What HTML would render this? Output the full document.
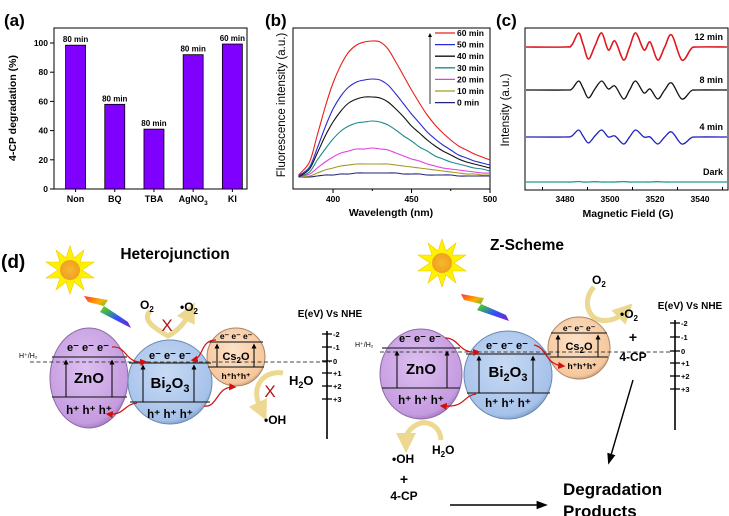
<!DOCTYPE html>
<html><head><meta charset="utf-8"><style>
html,body{margin:0;padding:0;background:#fff;}
svg{display:block;font-family:"Liberation Sans",sans-serif;}
.b{font-weight:bold;}
</style></head><body>
<svg id="fig" width="729" height="516" viewBox="0 0 729 516" xmlns="http://www.w3.org/2000/svg">
<defs>
<linearGradient id="rainbow" x1="0" y1="0" x2="1" y2="1">
<stop offset="0" stop-color="#ff3030"/><stop offset="0.25" stop-color="#ffb000"/><stop offset="0.45" stop-color="#40c040"/><stop offset="0.7" stop-color="#3050ff"/><stop offset="1" stop-color="#8020c0"/>
</linearGradient>
<radialGradient id="gZn" cx="0.45" cy="0.4" r="0.65"><stop offset="0" stop-color="#dcc0f0"/><stop offset="0.85" stop-color="#c59be0"/><stop offset="1" stop-color="#8f6aa8"/></radialGradient>
<radialGradient id="gBi" cx="0.45" cy="0.4" r="0.65"><stop offset="0" stop-color="#c8daf4"/><stop offset="0.85" stop-color="#a6c2ea"/><stop offset="1" stop-color="#6f8db8"/></radialGradient>
<radialGradient id="gCs" cx="0.45" cy="0.4" r="0.65"><stop offset="0" stop-color="#fde2c8"/><stop offset="0.85" stop-color="#f6c79c"/><stop offset="1" stop-color="#b08a6a"/></radialGradient>
<radialGradient id="gSun" cx="0.5" cy="0.5" r="0.5"><stop offset="0" stop-color="#f8b830"/><stop offset="1" stop-color="#f0a020"/></radialGradient>
<marker id="ar" markerWidth="6" markerHeight="6" refX="4" refY="3" orient="auto"><path d="M0,0 L6,3 L0,6 z" fill="#d01010"/></marker>
<marker id="ak" markerWidth="8" markerHeight="8" refX="6" refY="4" orient="auto"><path d="M0,1 L8,4 L0,7 z" fill="#000"/></marker>
<marker id="aup" markerWidth="5" markerHeight="5" refX="2.5" refY="2.5" orient="auto"><path d="M0,0 L5,2.5 L0,5 z" fill="#000"/></marker>
<marker id="ay" markerWidth="4" markerHeight="4" refX="1" refY="2" orient="auto"><path d="M0,0 L4,2 L0,4 z" fill="#ecd890"/></marker>
</defs>

<!-- Panel a -->
<g id="pa">
<text x="4" y="26" class="b" font-size="17">(a)</text>
<rect x="54" y="28" width="193" height="161" fill="none" stroke="#000" stroke-width="1"/>
<text transform="translate(16,108) rotate(-90)" text-anchor="middle" class="b" font-size="10.5">4-CP degradation (%)</text>
<g id="pa-marks"></g>
</g>

<!-- Panel b -->
<g id="pb">
<text x="265" y="26" class="b" font-size="17">(b)</text>
<rect x="293" y="28" width="197" height="161" fill="none" stroke="#000" stroke-width="1"/>
<text transform="translate(285,105) rotate(-90)" text-anchor="middle" font-size="11.5">Fluorescence intensity (a.u.)</text>
<text x="391" y="216" text-anchor="middle" class="b" font-size="10.5">Wavelength (nm)</text>
<g id="pb-marks"></g>
</g>

<!-- Panel c -->
<g id="pc">
<text x="496" y="26" class="b" font-size="17">(c)</text>
<rect x="525" y="28" width="203" height="162" fill="none" stroke="#000" stroke-width="1"/>
<text transform="translate(509,110) rotate(-90)" text-anchor="middle" font-size="11.5">Intensity (a.u.)</text>
<text x="628" y="217" text-anchor="middle" class="b" font-size="10.5">Magnetic Field (G)</text>
<g id="pc-marks"></g>
</g>

<!-- Panel d -->
<g id="pd" font-weight="bold">
<text x="1" y="268" font-size="19">(d)</text>

<!-- Heterojunction -->
<g>
<text x="175" y="259" text-anchor="middle" font-size="15.5">Heterojunction</text>
<g>
<polygon points="70,246 74,258 84,250 80,262 94,262 82,270 94,278 80,278 84,290 74,282 70,294 66,282 56,290 60,278 46,278 58,270 46,262 60,262 56,250 66,258" fill="#fff200" stroke="#f0c800" stroke-width="0.6"/>
<circle cx="70" cy="270" r="10" fill="url(#gSun)"/>
</g>
<polygon points="84,296 108,300 104,306 128,322 131,328 100,312 104,306 88,302" fill="url(#rainbow)"/>
<ellipse cx="89" cy="378" rx="39" ry="50" fill="url(#gZn)" stroke="#8c6aa6" stroke-width="1"/>
<circle cx="170" cy="382" r="42" fill="url(#gBi)" stroke="#6c88b0" stroke-width="1"/>
<circle cx="236" cy="357" r="29" fill="url(#gCs)" stroke="#a88668" stroke-width="1"/>
<line x1="30" y1="362" x2="330" y2="362" stroke="#444" stroke-width="0.9" stroke-dasharray="4,2.5"/>
<text x="19" y="358" font-size="7" font-weight="normal">H⁺/H₂</text>
<g stroke="#333" stroke-width="1.2" fill="none">
<line x1="52" y1="357" x2="127" y2="357"/><line x1="52" y1="397" x2="127" y2="397"/>
<line x1="129" y1="363" x2="211" y2="363"/><line x1="130" y1="402" x2="210" y2="402"/>
<line x1="209" y1="342" x2="263" y2="342"/><line x1="208" y1="367" x2="264" y2="367"/>
</g>
<g stroke="#000" stroke-width="1" marker-end="url(#aup)">
<line x1="66" y1="397" x2="66" y2="362"/><line x1="112" y1="397" x2="112" y2="362"/>
<line x1="143" y1="402" x2="143" y2="367"/><line x1="194" y1="402" x2="194" y2="367"/>
<line x1="217" y1="367" x2="217" y2="346"/><line x1="254" y1="367" x2="254" y2="346"/>
</g>
<text x="88" y="351" text-anchor="middle" font-size="11">e⁻ e⁻ e⁻</text>
<text x="89" y="383" text-anchor="middle" font-size="15">ZnO</text>
<text x="89" y="414" text-anchor="middle" font-size="11.5">h⁺ h⁺ h⁺</text>
<text x="170" y="359" text-anchor="middle" font-size="11">e⁻ e⁻ e⁻</text>
<text x="170" y="388" text-anchor="middle" font-size="15">Bi<tspan dy="4" font-size="11">2</tspan><tspan dy="-4">O</tspan><tspan dy="4" font-size="11">3</tspan></text>
<text x="170" y="418" text-anchor="middle" font-size="11.5">h⁺ h⁺ h⁺</text>
<text x="236" y="339" text-anchor="middle" font-size="8.5">e⁻ e⁻ e⁻</text>
<text x="236" y="360" text-anchor="middle" font-size="11">Cs<tspan dy="3" font-size="8">2</tspan><tspan dy="-3">O</tspan></text>
<text x="236" y="379" text-anchor="middle" font-size="8.5">h⁺h⁺h⁺</text>
<g stroke="#d01010" stroke-width="1.2" fill="none" marker-end="url(#ar)">
<path d="M112,347 C128,346 124,364 145,362"/>
<path d="M216,340 C200,340 204,358 193,360"/>
<path d="M137,403 C124,404 124,416 108,414"/>
<path d="M204,406 C218,408 216,386 234,387"/>
</g>
<path d="M150,311 C140,322 162,332 168,336 C176,332 184,324 188,316" fill="none" stroke="#ecd890" stroke-width="5" marker-end="url(#ay)"/>
<text x="140" y="309" font-size="12">O<tspan dy="3" font-size="8">2</tspan></text>
<text x="180" y="311" font-size="12">•O<tspan dy="3" font-size="8">2</tspan></text>
<text x="167" y="331" text-anchor="middle" font-size="17" font-weight="normal" fill="#b01818">X</text>
<path d="M283,373 C264,370 250,386 260,407" fill="none" stroke="#ecd890" stroke-width="5" marker-end="url(#ay)"/>
<text x="289" y="385" font-size="13">H<tspan dy="3" font-size="9">2</tspan><tspan dy="-3">O</tspan></text>
<text x="270" y="397" text-anchor="middle" font-size="17" font-weight="normal" fill="#b01818">X</text>
<text x="264" y="424" font-size="12">•OH</text>
<text x="330" y="317" text-anchor="middle" font-size="10">E(eV) Vs NHE</text>
<g>
<line x1="327" y1="331" x2="327" y2="439" stroke="#000" stroke-width="1.6"/>
<g stroke="#000" stroke-width="1.3"><line x1="322" y1="334" x2="332" y2="334"/><line x1="322" y1="347" x2="332" y2="347"/><line x1="322" y1="361" x2="332" y2="361"/><line x1="322" y1="373" x2="332" y2="373"/><line x1="322" y1="386" x2="332" y2="386"/><line x1="322" y1="399" x2="332" y2="399"/></g>
<g font-size="7.5"><text x="333" y="337">-2</text><text x="333" y="350">-1</text><text x="333" y="364">0</text><text x="333" y="376">+1</text><text x="333" y="389">+2</text><text x="333" y="402">+3</text></g>
</g>
</g>

<!-- Z-scheme -->
<g>
<text x="527" y="250" text-anchor="middle" font-size="15.5">Z-Scheme</text>
<g>
<polygon points="442,239 446,251 456,243 452,255 466,255 454,263 466,271 452,271 456,283 446,275 442,287 438,275 428,283 432,271 418,271 430,263 418,255 432,255 428,243 438,251" fill="#fff200" stroke="#f0c800" stroke-width="0.6"/>
<circle cx="442" cy="263" r="10" fill="url(#gSun)"/>
</g>
<polygon points="461,294 484,298 481,304 506,315 509,321 477,310 481,304 464,300" fill="url(#rainbow)"/>
<ellipse cx="421" cy="374" rx="41" ry="45" fill="url(#gZn)" stroke="#8c6aa6" stroke-width="1"/>
<circle cx="508" cy="375" r="44" fill="url(#gBi)" stroke="#6c88b0" stroke-width="1"/>
<circle cx="579" cy="348" r="31" fill="url(#gCs)" stroke="#a88668" stroke-width="1"/>
<line x1="380" y1="352" x2="670" y2="352" stroke="#444" stroke-width="0.9" stroke-dasharray="4,2.5"/>
<text x="355" y="347" font-size="7" font-weight="normal">H⁺/H₂</text>
<g stroke="#333" stroke-width="1.2" fill="none">
<line x1="382" y1="348" x2="460" y2="348"/><line x1="382" y1="388" x2="460" y2="388"/>
<line x1="466" y1="354" x2="551" y2="354"/><line x1="467" y1="393" x2="550" y2="393"/>
<line x1="551" y1="333" x2="607" y2="333"/><line x1="550" y1="357" x2="608" y2="357"/>
</g>
<g stroke="#000" stroke-width="1" marker-end="url(#aup)">
<line x1="397" y1="388" x2="397" y2="353"/><line x1="447" y1="388" x2="447" y2="353"/>
<line x1="479" y1="393" x2="479" y2="358"/><line x1="533" y1="393" x2="533" y2="358"/>
<line x1="558" y1="357" x2="558" y2="337"/><line x1="598" y1="357" x2="598" y2="337"/>
</g>
<text x="420" y="342" text-anchor="middle" font-size="11">e⁻ e⁻ e⁻</text>
<text x="421" y="374" text-anchor="middle" font-size="15">ZnO</text>
<text x="421" y="404" text-anchor="middle" font-size="11.5">h⁺ h⁺ h⁺</text>
<text x="507" y="349" text-anchor="middle" font-size="11">e⁻ e⁻ e⁻</text>
<text x="508" y="377" text-anchor="middle" font-size="15">Bi<tspan dy="4" font-size="11">2</tspan><tspan dy="-4">O</tspan><tspan dy="4" font-size="11">3</tspan></text>
<text x="508" y="407" text-anchor="middle" font-size="11.5">h⁺ h⁺ h⁺</text>
<text x="579" y="331" text-anchor="middle" font-size="8.5">e⁻ e⁻ e⁻</text>
<text x="579" y="350" text-anchor="middle" font-size="11">Cs<tspan dy="3" font-size="8">2</tspan><tspan dy="-3">O</tspan></text>
<text x="582" y="369" text-anchor="middle" font-size="8.5">h⁺h⁺h⁺</text>
<g stroke="#d01010" stroke-width="1.2" fill="none" marker-end="url(#ar)">
<path d="M445,338 C460,338 458,354 478,352"/>
<path d="M534,345 C548,348 544,364 563,366"/>
<path d="M476,394 C462,396 466,408 442,406"/>
</g>
<path d="M594,287 C582,300 588,318 600,320 C610,322 618,318 622,314" fill="none" stroke="#ecd890" stroke-width="5" marker-end="url(#ay)"/>
<text x="592" y="284" font-size="12">O<tspan dy="3" font-size="8">2</tspan></text>
<text x="620" y="318" font-size="12">•O<tspan dy="3" font-size="8">2</tspan></text>
<text x="633" y="342" text-anchor="middle" font-size="14">+</text>
<text x="633" y="361" text-anchor="middle" font-size="12">4-CP</text>
<line x1="633" y1="380" x2="609" y2="462" stroke="#000" stroke-width="1.4" marker-end="url(#ak)"/>
<path d="M441,440 C440,426 428,420 418,424 C410,428 406,434 406,438" fill="none" stroke="#ecd890" stroke-width="5" marker-end="url(#ay)"/>
<text x="432" y="454" font-size="12">H<tspan dy="3" font-size="8">2</tspan><tspan dy="-3">O</tspan></text>
<text x="392" y="463" font-size="12">•OH</text>
<text x="404" y="484" text-anchor="middle" font-size="14">+</text>
<text x="404" y="500" text-anchor="middle" font-size="12">4-CP</text>
<line x1="450" y1="505" x2="545" y2="505" stroke="#000" stroke-width="1.4" marker-end="url(#ak)"/>
<text x="563" y="495" font-size="17">Degradation</text>
<text x="563" y="517" font-size="17">Products</text>
<text x="690" y="309" text-anchor="middle" font-size="10">E(eV) Vs NHE</text>
<g>
<line x1="675" y1="320" x2="675" y2="430" stroke="#000" stroke-width="1.6"/>
<g stroke="#000" stroke-width="1.3"><line x1="670" y1="323" x2="680" y2="323"/><line x1="670" y1="337" x2="680" y2="337"/><line x1="670" y1="351" x2="680" y2="351"/><line x1="670" y1="363" x2="680" y2="363"/><line x1="670" y1="376" x2="680" y2="376"/><line x1="670" y1="389" x2="680" y2="389"/></g>
<g font-size="7.5"><text x="681" y="326">-2</text><text x="681" y="340">-1</text><text x="681" y="354">0</text><text x="681" y="366">+1</text><text x="681" y="379">+2</text><text x="681" y="392">+3</text></g>
</g>
</g>
</g>
</svg>
<script>
// ---------- Panel (a) data ----------
const catsA = ['Non','BQ','TBA','AgNO3','KI'];
const valsA = [98.5, 58, 41, 92, 99.3];
const timesA = ['80 min','80 min','80 min','80 min','60 min'];
const ticksA = [0,20,40,60,80,100];
// ---------- Panel (b) data ----------
const wlB = [378,385,390,395,400,405,410,415,420,425,430,435,440,445,450,455,460,465,470,475,480,485,490,495,500];
const s60 = [2,15,42,70,94,112,125,132,135,136,135,128,115,101,87,74,62,52,44,37,31,27,23,20,17];
const s50 = [1,10,29,50,68,81,90,95,97,98,97,92,83,73,63,54,45,38,32,27,22,19,16,14,12];
const s40 = [0,8,24,41,55,66,74,78,80,80,79,75,68,60,51,44,37,31,26,22,18,15,13,11,9];
const s30 = [0,5,17,28,38,46,51,54,55,56,55,52,47,41,36,30,26,21,18,15,13,11,9,8,6];
const s20 = [0,3,9,15,20,24,26,28,28,29,28,27,24,21,18,16,13,11,9,8,7,6,5,4,4];
const s10 = [0,1,4,7,9,11,12,13,13,13,13,13,12,11,10,9,8,7,6,5,4,3,3,2,2];
const s00 = [0,0,1,2,2,3,3,4,4,4,4,4,4,3,3,3,2,2,2,2,1,1,1,1,1];
const seriesNamesB = ['60 min','50 min','40 min','30 min','20 min','10 min','0   min'];
const ticksB = [400,450,500];
const minorTicksB = [425,475];
// ---------- Panel (c) data ----------
const fieldC = [3462,3480,3483,3486,3488,3490.4,3493.3,3496.3,3499.3,3502.2,3506,3508.7,3511.4,3515.1,3517.8,3521.2,3524.3,3527.4,3531.9,3536,3538.5,3552];
const e12 = [0,0,2,14,3,-12,1,14,-3,6,-13,0,14,-3,5,-13,0,12,-13,-2,0,0];
const e8  = [0,0,1,9,2,-8,1,9,1,4,-9,0,9,-3,1,-9,0,7,-9,-1,0,0];
const e4  = [0,0,1,7,1,-6,1,7,0,1,-7,0,7,0,0,-7,0,5,-7,-1,0,0];
const eD  = [0,0,0,0.5,0,0,0.3,0,0,0,0.4,0,0,0,0,0.3,0,0,0,0,0,0];
const offsetsC = [143,100,53,8];
const labelsC = ['12 min','8 min','4 min','Dark'];
const ticksC = [3480,3500,3520,3540];
const minorTicksC = [3470,3490,3510,3530,3550];

const NS='http://www.w3.org/2000/svg';
function mk(tag, attrs, parent){const e=document.createElementNS(NS,tag);for(const k in attrs)e.setAttribute(k,attrs[k]);parent.appendChild(e);return e;}
function smooth(pts){
  let d='M'+pts[0][0].toFixed(1)+','+pts[0][1].toFixed(1);
  for(let i=0;i<pts.length-1;i++){
    const p0=pts[Math.max(0,i-1)],p1=pts[i],p2=pts[i+1],p3=pts[Math.min(pts.length-1,i+2)];
    const c1x=p1[0]+(p2[0]-p0[0])/6,c1y=p1[1]+(p2[1]-p0[1])/6;
    const c2x=p2[0]-(p3[0]-p1[0])/6,c2y=p2[1]-(p3[1]-p1[1])/6;
    d+=' C'+c1x.toFixed(1)+','+c1y.toFixed(1)+' '+c2x.toFixed(1)+','+c2y.toFixed(1)+' '+p2[0].toFixed(1)+','+p2[1].toFixed(1);
  }
  return d;
}

// ---- Panel a ----
(function(){
  const g=document.getElementById('pa-marks');
  const yA=v=>189 - v*1.46;
  const band=39.2;
  const xA=i=>54 + (i+0.55)*band;
  ticksA.forEach(t=>{
    const l=mk('line',{x1:50,x2:54,y1:yA(t),y2:yA(t),stroke:'#000'},g);
    
    
    const tx=mk('text',{x:48,y:yA(t)+3,'text-anchor':'end','font-size':8.5,'font-weight':'bold'},g);
    tx.textContent=t;
    
    
  });
  catsA.forEach((c,i)=>{
    const r=mk('rect',{x:xA(i)-10,y:yA(valsA[i]),width:20,height:189-yA(valsA[i]),fill:'#8000ff',stroke:'#000','stroke-width':0.8},g);
    
    
    const t=mk('text',{x:xA(i),y:yA(valsA[i])-3,'text-anchor':'middle','font-size':8,'font-weight':'bold'},g);
    t.textContent=timesA[i];
    
    
    const tk=mk('line',{x1:xA(i),x2:xA(i),y1:189,y2:192,stroke:'#000'},g);
    
    
    const lb=mk('text',{x:xA(i),y:202,'text-anchor':'middle','font-size':9,'font-weight':'bold'},g);
    if(c==='AgNO3'){lb.textContent='AgNO';const s=mk('tspan',{dy:3,'font-size':6.5},lb);s.textContent='3';}
    else lb.textContent=c;
    
    
  });
})();

// ---- Panel b ----
(function(){
  const g=document.getElementById('pb-marks');
  const xB=w=>293 + (w-374.5)*1.57;
  const yB=v=>177 - v;
  const series=[s60,s50,s40,s30,s20,s10,s00];
  const colors=['#e8201c','#2a2ad0','#111111','#1e8c8c','#e040e0','#a09a20','#22227a'];
  ticksB.forEach(t=>{
    const l=mk('line',{x1:xB(t),x2:xB(t),y1:189,y2:193,stroke:'#000'},g);
    
    
    const tx=mk('text',{x:xB(t),y:202,'text-anchor':'middle','font-size':8.5,'font-weight':'bold'},g);
    tx.textContent=t;
    
    
  });
  minorTicksB.forEach(t=>{
    const l=mk('line',{x1:xB(t),x2:xB(t),y1:189,y2:191,stroke:'#000'},g);
    
    
  });
  for(let k=series.length-1;k>=0;k--){
    const pts=wlB.map((w,i)=>[xB(w),yB(series[k][i])]);
    const p=mk('path',{d:smooth(pts),fill:'none',stroke:colors[k],'stroke-width':1.1},g);
    
    
  }
  const arr=mk('line',{x1:430,y1:104,x2:430,y2:35,stroke:'#000','stroke-width':0.8,'marker-end':'url(#aup)'},g);
  
  
  seriesNamesB.forEach((n,k)=>{
    const y=33 + k*11.6;
    const l=mk('line',{x1:435,x2:455,y1:y,y2:y,stroke:colors[k],'stroke-width':1.3},g);
    
    
    const t=mk('text',{x:457,y:y+3,'font-size':8.5,'font-weight':'bold','xml:space':'preserve'},g);
    t.textContent=n;
    
    
  });
})();

// ---- Panel c ----
(function(){
  const g=document.getElementById('pc-marks');
  const xC=f=>565 + (f-3480)*2.25;
  const yC=v=>190 - v;
  const series=[e12,e8,e4,eD];
  const colors=['#e01820','#111111','#2020c0','#1a9a9a'];
  ticksC.forEach(t=>{
    const tx=mk('text',{x:xC(t),y:202,'text-anchor':'middle','font-size':8.5,'font-weight':'bold'},g);
    tx.textContent=t;
    
    
  });
  minorTicksC.forEach(t=>{
    const l=mk('line',{x1:xC(t),x2:xC(t),y1:190,y2:187,stroke:'#000'},g);
    
    
  });
  series.forEach((s,k)=>{
    const pts=fieldC.map((f,i)=>[Math.min(727,Math.max(526,xC(f))),yC(offsetsC[k]+s[i])]);
    const p=mk('path',{d:smooth(pts),fill:'none',stroke:colors[k],'stroke-width':k===0?1.6:1.3,'stroke-linejoin':'round'},g);
    
    
    const t=mk('text',{x:723,y:yC(offsetsC[k])-7,'text-anchor':'end','font-size':9,'font-weight':'bold'},g);
    t.textContent=labelsC[k];
    
    
  });
})();
</script>
</body></html>
